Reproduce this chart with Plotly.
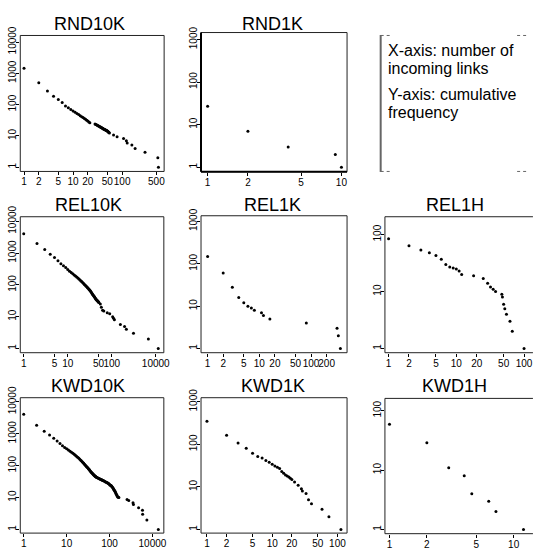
import plotly.graph_objects as go

W, H = 534, 551

# ---------------- data ----------------
rnd10k_x = [1, 2, 3, 4, 5, 6, 7, 8, 9, 10, 11, 12, 13, 14, 15, 16, 17, 18, 19, 20, 21, 22,
            28, 29, 30, 31, 32, 33, 34, 35, 36, 37, 38, 39, 40, 41, 42, 43, 44, 45, 46, 47,
            48, 49, 50, 51, 52, 53, 54, 55, 67, 79, 107, 122, 127, 158, 184, 293, 535, 550]
rnd10k_y = [1450, 500, 274, 187, 147, 118, 91, 79, 70, 63, 57, 52, 48, 44, 41, 38.5, 36, 34, 32, 30, 28, 26.5,
            24, 23.3, 22.6, 22, 21.4, 20.8, 20.3, 19.8, 19.3, 18.8, 18.3, 17.9, 17.5, 17.1, 16.8, 16.4, 16.1, 15.8, 15.5, 15.2,
            14.9, 14.6, 14.3, 14, 13.6, 13.2, 12.8, 12.4, 10.8, 9.5, 8.3, 7, 6, 5.1, 4, 3, 2, 1]

rnd1k_x = [1, 2, 4, 9, 10]
rnd1k_y = [27, 7, 3, 2, 1]

rel10k_x = [1, 2, 3, 4, 5, 6, 7, 8, 9, 10,
            11, 12, 13, 14, 15, 16, 17, 18, 19, 20, 21, 22, 23, 24, 25, 26, 27, 28, 29, 30,
            31, 32, 33, 34, 35, 36, 37, 38, 39, 40, 41, 42, 43, 44, 45, 46, 47, 48, 49, 50, 51,
            55, 58, 62, 66, 79, 90, 105, 110, 115, 157, 196, 215, 312, 680, 1140]
rel10k_y = [4070, 2000, 1310, 920, 730, 572, 465, 400, 350, 303,
            270, 245, 225, 205, 190, 176, 164, 153, 143, 134, 125, 118, 111, 104, 98, 93, 88, 83, 79, 75,
            71, 68, 63, 60, 56, 53, 50, 47, 45, 43, 41, 39, 37, 35, 34, 33, 32, 31, 30, 29, 28,
            25, 20, 16, 15, 13.4, 12.5, 10, 9, 8, 5.7, 4.9, 4, 3, 2, 1]

rel1k_x = [1, 2, 3, 4, 5, 6, 7, 8, 11, 12, 16, 81, 318, 337, 369]
rel1k_y = [148, 61, 28, 16, 12, 10, 9, 8, 7, 6, 5, 4, 3, 2, 1]

rel1h_x = [1, 2, 3, 4, 5, 6, 7, 8, 9, 10, 11, 12, 18, 25, 29, 32, 35, 38, 47, 48, 50, 52, 55, 62, 67, 100]
rel1h_y = [85, 64, 54, 48, 43, 37, 30, 27, 26, 25, 23, 20, 19, 17, 14, 12, 11, 10, 9, 8, 6, 5, 4, 3, 2, 1]

kwd10k_x = [1, 2, 3, 4, 5, 6, 7, 8,
            9, 10, 11, 12, 13, 14, 15, 16, 17, 18, 19, 20, 21, 22, 23, 24, 25, 26, 27, 28, 29,
            30, 31, 32, 33, 34, 35, 36, 37, 38, 39, 40, 41, 42, 43, 44, 45, 46, 47, 48, 49, 50,
            52, 54, 56, 58, 60, 62, 64, 66, 68, 70, 72, 75, 78, 81, 84, 87, 90, 93, 96, 99,
            102, 105, 108, 111, 114, 117, 120, 123, 126, 129, 132, 135, 138, 141, 144, 148,
            152, 156, 160, 165, 256, 280, 352, 360, 475, 585, 590, 740, 1370]
kwd10k_y = [4100, 1840, 1200, 910, 720, 600, 494, 419,
            370, 340, 310, 285, 265, 245, 228, 213, 198, 185, 173, 162, 152, 143, 134, 126, 119, 112, 106, 100, 95,
            90, 86, 82, 78, 74, 70, 67, 64, 61, 59, 57, 55, 53, 51, 50, 48, 47, 46, 45, 44, 43,
            42, 41, 40, 39, 38, 37, 36.5, 36, 35, 34.5, 34, 33, 32, 31, 30, 29.5, 28.5, 28, 27, 26,
            25, 24.5, 24, 23, 22, 21, 20, 19, 18, 17, 16, 15.5, 14.5, 13.5, 12.5, 12,
            11, 10.5, 10.2, 10, 8.7, 8.1, 6.9, 6.1, 4.8, 4, 3, 2, 1]

kwd1k_x = [1, 2, 3, 4, 5, 6, 7, 8, 9, 10, 11, 12, 13, 14, 15, 16, 17, 18, 19, 20,
           22, 25, 28, 29, 33, 36, 40, 58, 74, 113]
kwd1k_y = [350, 164, 107, 81, 62, 52, 48, 42, 38, 34, 31, 29, 27, 23, 21, 19, 18, 17, 16, 15,
           13, 11, 9, 8, 7, 5, 4, 3, 2, 1]

kwd1h_x = [1, 2, 3, 4, 4.6, 6.3, 7.2, 12]
kwd1h_y = [59, 29, 11, 8, 4, 3, 2, 1]

titles = ["RND10K", "RND1K", "REL10K", "REL1K", "REL1H", "KWD10K", "KWD1K", "KWD1H"]

xt_rnd10k = [1, 2, 5, 10, 20, 50, 100, 500]
xt_small10 = [1, 2, 5, 10]
xt_rel10k = [1, 5, 10, 50, 100, 1000]
xl_rel10k = ["1", "5", "10", "50", "100", "10000"]
xt_rel1k = [1, 2, 5, 10, 20, 50, 100, 200]
xt_100 = [1, 2, 5, 10, 20, 50, 100]
xt_kwd10k = [1, 10, 100, 1000]
xl_kwd10k = ["1", "10", "100", "10000"]

yt_10k = [1, 10, 100, 1000, 10000]
yt_1k = [1, 10, 100, 1000]
yt_1h = [1, 10, 100]

legend_lines = ["X-axis: number of", "incoming links", "Y-axis: cumulative", "frequency"]

# ---------------- layout geometry (pixels) ----------------
# box: left, right, top, bottom ; xcal: pixel of x=1, px per decade ; ycal: pixel of y=1, px per decade
panels = [
    dict(x=rnd10k_x, y=rnd10k_y, box=(20.5, 166, 24, 163), xcal=(24.3, 49.6), ycal=(158.7, 32),
         xt=xt_rnd10k, xl=None, yt=yt_10k, col=0, tc=(91, 12.7)),
    dict(x=rnd1k_x, y=rnd1k_y, box=(203.3, 351, 21, 163.3), xcal=(210, 135.3), ycal=(158.7, 43.5),
         xt=xt_small10, xl=None, yt=yt_1k, col=1, tc=(276, 12.7)),
    dict(x=rel10k_x, y=rel10k_y, box=(20.5, 165.7, 209.3, 348.3), xcal=(24, 44.5), ycal=(344, 32.5),
         xt=xt_rel10k, xl=xl_rel10k, yt=yt_10k, col=0, tc=(89, 197.7)),
    dict(x=rel1k_x, y=rel1k_y, box=(203.3, 351, 208.3, 348.3), xcal=(210, 52.3), ycal=(344, 43.3),
         xt=xt_rel1k, xl=None, yt=yt_1k, col=1, tc=(276, 197.7)),
    dict(x=rel1h_x, y=rel1h_y, box=(389.3, 534, 209.3, 348.3), xcal=(393, 68.5), ycal=(344, 58.2),
         xt=xt_100, xl=None, yt=yt_1h, col=2, tc=(460, 197.7)),
    dict(x=kwd10k_x, y=kwd10k_y, box=(20.5, 165.7, 394.3, 532.7), xcal=(24, 43.4), ycal=(529, 32.6),
         xt=xt_kwd10k, xl=xl_kwd10k, yt=yt_10k, col=0, tc=(89, 382.7)),
    dict(x=kwd1k_x, y=kwd1k_y, box=(203.3, 351, 394.3, 532.7), xcal=(209.3, 66), ycal=(529, 43.5),
         xt=xt_100, xl=None, yt=yt_1k, col=1, tc=(276, 382.7)),
    dict(x=kwd1h_x, y=kwd1h_y, box=(389.3, 534, 395, 533.3), xcal=(393.9, 125.6), ycal=(529, 60.7),
         xt=xt_small10, xl=None, yt=yt_1h, col=2, tc=(460, 382.7)),
]

TICKFONT = dict(family="Liberation Sans Narrow, Liberation Sans, Arial, sans-serif", size=10, color="black")
BOXCOL = "#222222"

fig = go.Figure()
layout = dict(width=W, height=H, margin=dict(l=0, r=0, t=0, b=0),
              paper_bgcolor="white", plot_bgcolor="white", showlegend=False)
shapes = []
annotations = []

def fx(p):
    return p / W

def fy(p):
    return 1 - p / H

for i, (p, title) in enumerate(zip(panels, titles)):
    n = "" if i == 0 else str(i + 1)
    l, r, t, b = p["box"]
    x1, xd = p["xcal"]
    y1, yd = p["ycal"]
    xr = [(l - x1) / xd, (r - x1) / xd]
    yr = [(y1 - b) / yd, (y1 - t) / yd]
    fig.add_trace(go.Scatter(x=p["x"], y=p["y"], mode="markers",
                             marker=dict(size=3, color="black", line=dict(width=0)),
                             xaxis="x" + n, yaxis="y" + n, hoverinfo="skip"))
    xl = p["xl"] if p["xl"] is not None else [str(v) for v in p["xt"]]
    layout["xaxis" + n] = dict(type="log", range=xr, domain=[fx(l), min(fx(r), 1.0)], anchor="y" + n,
                               tickmode="array", tickvals=p["xt"], ticktext=xl, tickangle=0,
                               ticks="outside", ticklen=3, tickwidth=1, tickcolor="black",
                               showgrid=False, zeroline=False, showline=False,
                               tickfont=TICKFONT, ticklabelstandoff=-2)
    layout["yaxis" + n] = dict(type="log", range=yr, domain=[fy(b), fy(t)], anchor="x" + n,
                               tickmode="array", tickvals=p["yt"], ticktext=[str(v) for v in p["yt"]],
                               tickangle=-90, ticks="outside", ticklen=3, tickwidth=1, tickcolor="black",
                               showgrid=False, zeroline=False, showline=False,
                               tickfont=TICKFONT, ticklabelstandoff=-4)
    if p["col"] < 2:
        shapes.append(dict(type="rect", xref="paper", yref="paper", x0=fx(l), x1=fx(r), y0=fy(b), y1=fy(t),
                           line=dict(color=BOXCOL, width=1), layer="above"))
    else:
        for (xa, ya, xb, yb) in [(l, t, W + 5, t), (l, b, W + 5, b), (l, t, l, b)]:
            shapes.append(dict(type="line", xref="paper", yref="paper", x0=fx(xa), x1=fx(xb),
                               y0=fy(ya), y1=fy(yb), line=dict(color=BOXCOL, width=1), layer="above"))
    if i == 1:
        # heavier left and bottom frame lines in this panel
        shapes.append(dict(type="line", xref="paper", yref="paper", x0=fx(l), x1=fx(r), y0=fy(b), y1=fy(b),
                           line=dict(color="black", width=2), layer="above"))
        shapes.append(dict(type="line", xref="paper", yref="paper", x0=fx(l), x1=fx(l), y0=fy(b), y1=fy(t),
                           line=dict(color="black", width=2), layer="above"))
    annotations.append(dict(text=title, xref="paper", yref="paper", x=fx(p["tc"][0]), y=fy(p["tc"][1]),
                            xanchor="center", yanchor="middle", showarrow=False,
                            font=dict(family="Liberation Sans, Arial, sans-serif", size=18, color="black")))

# explanatory box in the top-right cell
shapes.append(dict(type="line", xref="paper", yref="paper", x0=fx(385), x1=fx(385), y0=fy(163.5), y1=fy(23.5),
                   line=dict(color="#666666", width=2)))
for yy in (24, 163):
    shapes.append(dict(type="line", xref="paper", yref="paper", x0=fx(385), x1=fx(397), y0=fy(yy), y1=fy(yy),
                       line=dict(color="#666666", width=1, dash="dot")))
    shapes.append(dict(type="line", xref="paper", yref="paper", x0=fx(523), x1=fx(534), y0=fy(yy), y1=fy(yy),
                       line=dict(color="#666666", width=1, dash="dot")))
for txt, cy in zip(legend_lines, [39.5, 58, 84.5, 103]):
    annotations.append(dict(text=txt, xref="paper", yref="paper", x=fx(390.5), y=fy(cy),
                            xanchor="left", yanchor="middle", showarrow=False,
                            font=dict(family="Liberation Sans, Arial, sans-serif", size=16, color="black")))

layout["shapes"] = shapes
layout["annotations"] = annotations
fig.update_layout(**layout)
fig.write_html("out.html")
